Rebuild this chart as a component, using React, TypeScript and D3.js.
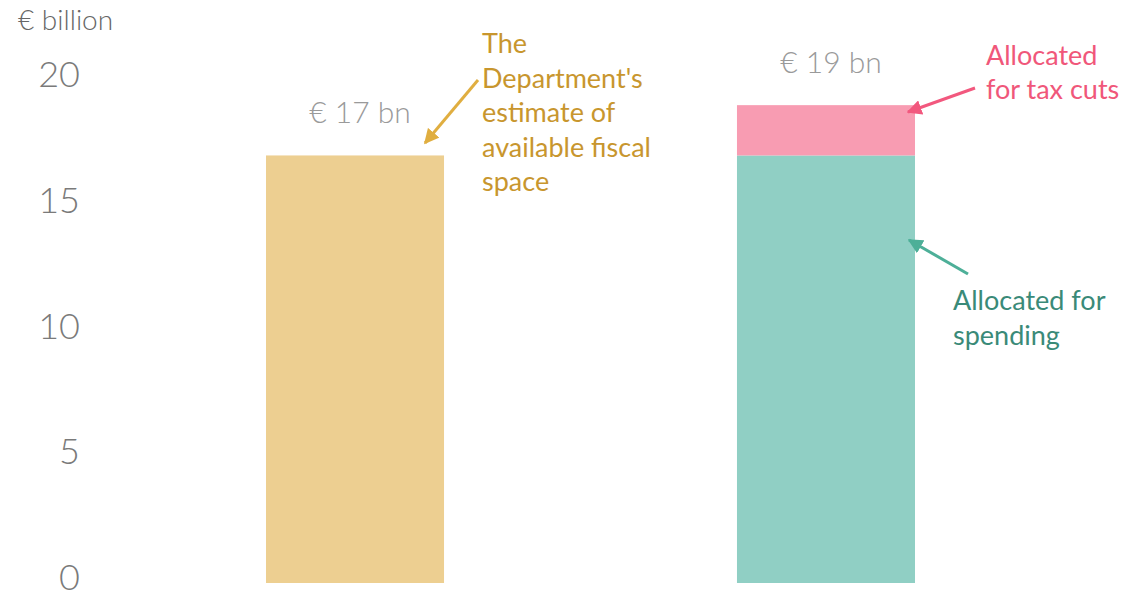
import React from "react";
import * as d3 from "d3";

const categories = ["Fiscal space", "Allocation"];
const fiscalSpace = [17, 0];
const spending = [0, 17];
const taxCuts = [0, 2];
const totalLabels = ["€ 17 bn", "€ 19 bn"];
const yTicks = [0, 5, 10, 15, 20];
const goldNote = ["The", "Department's", "estimate of", "available fiscal", "space"];
const pinkNote = ["Allocated", "for tax cuts"];
const tealNote = ["Allocated for", "spending"];

const W = 1122;
const H = 593;

export default function App() {
  const x = d3.scaleBand<string>().domain(categories).range([120, 1061]).paddingInner(0.622).paddingOuter(0.31);
  const y = d3.scaleLinear().domain([0, 20]).range([583, 80]);
  const bw = x.bandwidth();

  const stacks = categories.map((c, i) => {
    const segs: { y0: number; y1: number; color: string }[] = [];
    let base = 0;
    if (fiscalSpace[i] > 0) { segs.push({ y0: base, y1: base + fiscalSpace[i], color: "#EDCF91" }); base += fiscalSpace[i]; }
    if (spending[i] > 0) { segs.push({ y0: base, y1: base + spending[i], color: "#90CFC4" }); base += spending[i]; }
    if (taxCuts[i] > 0) { segs.push({ y0: base, y1: base + taxCuts[i], color: "#F89CB2" }); base += taxCuts[i]; }
    return { c, segs, total: base };
  });

  const annFont = "Lato, 'Open Sans', sans-serif";
  const tickFont = "Lato, 'Open Sans', sans-serif";

  return (
    <svg width={W} height={H} style={{ position: "absolute", left: 0, top: 0, background: "#fff" }}>
      <defs>
        <marker id="ahGold" viewBox="0 0 10 10" refX="9" refY="5" markerWidth="5" markerHeight="5" orient="auto" markerUnits="strokeWidth">
          <path d="M0,0 L10,5 L0,10 z" fill="#E0AE40" />
        </marker>
        <marker id="ahPink" viewBox="0 0 10 10" refX="9" refY="5" markerWidth="5" markerHeight="5" orient="auto" markerUnits="strokeWidth">
          <path d="M0,0 L10,5 L0,10 z" fill="#F2587E" />
        </marker>
        <marker id="ahTeal" viewBox="0 0 10 10" refX="9" refY="5" markerWidth="5" markerHeight="5" orient="auto" markerUnits="strokeWidth">
          <path d="M0,0 L10,5 L0,10 z" fill="#4DAF98" />
        </marker>
      </defs>

      <text x={18} y={30} fontFamily={tickFont} fontSize={28} fill="#666" fontWeight={300}>€ billion</text>
      {yTicks.map((t) => (
        <text key={t} x={80} y={y(t) - 2} dy="0.25em" textAnchor="end" fontFamily={tickFont} fontWeight={300} fontSize={36} fill="#7a7a7a">{t}</text>
      ))}

      {stacks.map((s) => (
        <g key={s.c}>
          {s.segs.map((seg, j) => (
            <rect key={j} x={x(s.c)} y={y(seg.y1)} width={bw} height={y(seg.y0) - y(seg.y1)} fill={seg.color} />
          ))}
        </g>
      ))}

      {stacks.map((s, i) => (
        <text key={s.c} x={(x(s.c) as number) + bw / 2 + 5} y={y(s.total) - 32} textAnchor="middle" fontFamily={tickFont} fontWeight={300} fontSize={30} fill="#9a9a9a">{totalLabels[i]}</text>
      ))}

      <line x1={478} y1={80} x2={425} y2={143} stroke="#E0AE40" strokeWidth={3} markerEnd="url(#ahGold)" />
      {goldNote.map((l, i) => (
        <text key={l} x={482} y={53 + i * 34.5} fontFamily={annFont} fontSize={27} fill="#C8962E">{l}</text>
      ))}

      <line x1={975} y1={88} x2={908} y2={112} stroke="#F2587E" strokeWidth={3} markerEnd="url(#ahPink)" />
      {pinkNote.map((l, i) => (
        <text key={l} x={986} y={65 + i * 34} fontFamily={annFont} fontSize={27} fill="#F0577A">{l}</text>
      ))}

      <line x1={968} y1={274} x2={909} y2={240} stroke="#4DAF98" strokeWidth={3} markerEnd="url(#ahTeal)" />
      {tealNote.map((l, i) => (
        <text key={l} x={953} y={310 + i * 35} fontFamily={annFont} fontSize={27} fill="#3A8A78">{l}</text>
      ))}
    </svg>
  );
}
